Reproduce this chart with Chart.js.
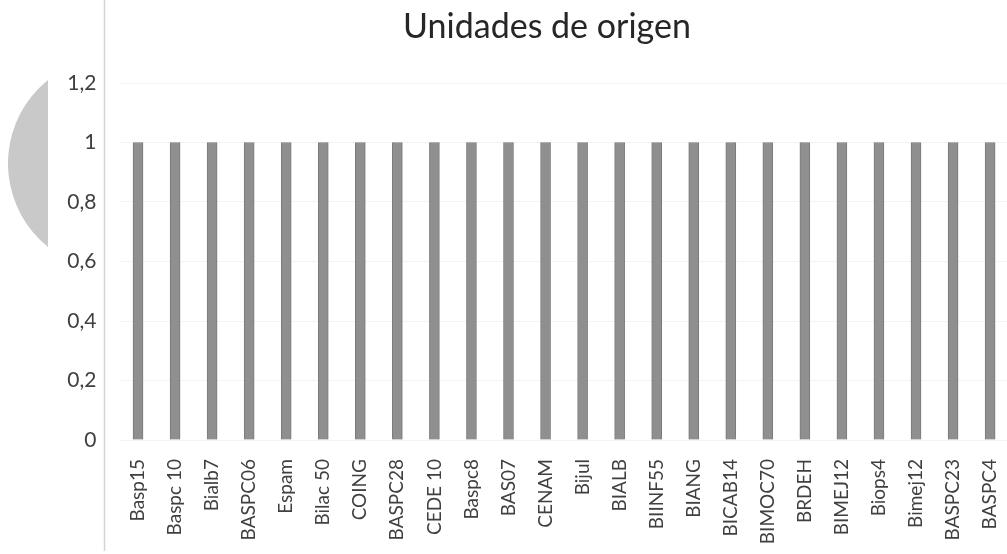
<!DOCTYPE html>
<html>
<head>
<meta charset="utf-8">
<script src="https://cdn.jsdelivr.net/npm/chart.js@4/dist/chart.umd.min.js"></script>
<style>
html,body{margin:0;padding:0;background:#fff;overflow:hidden;width:1007px;height:554px;}
#wrap{position:relative;width:1032px;height:554px;}
canvas{display:block;}
</style>
</head>
<body>
<div id="wrap"><canvas id="c" width="1032" height="554" style="width:1032px;height:554px"></canvas></div>
<script>
const chartTitle = "Unidades de origen";
const categories = ["Basp15","Baspc 10","Bialb7","BASPC06","Espam","Bilac 50","COING","BASPC28","CEDE 10","Baspc8","BAS07","CENAM","Bijul","BIALB","BIINF55","BIANG","BICAB14","BIMOC70","BRDEH","BIMEJ12","Biops4","Bimej12","BASPC23","BASPC4"];
const values = [1,1,1,1,1,1,1,1,1,1,1,1,1,1,1,1,1,1,1,1,1,1,1,1];
const yTicks = [0,0.2,0.4,0.6,0.8,1,1.2];

const decor = {
  id: 'decor',
  beforeDraw(chart) {
    const ctx = chart.ctx;
    ctx.save();
    ctx.fillStyle = '#fff';
    ctx.fillRect(0,0,chart.width,chart.height);
    // left frame line
    ctx.strokeStyle = '#d4d4d4';
    ctx.lineWidth = 1.5;
    ctx.beginPath();
    ctx.moveTo(104.5, 0);
    ctx.lineTo(104.5, 551);
    ctx.stroke();
    // grey circular-segment artifact (scan decoration)
    ctx.fillStyle = '#c9c9c9';
    ctx.beginPath();
    const a = Math.asin(83.5 / 107.2);
    ctx.arc(115.2, 163.5, 107.2, Math.PI - a, Math.PI + a);
    ctx.closePath();
    ctx.fill();
    // title
    ctx.fillStyle = '#262626';
    ctx.font = '34px Lato';
    ctx.textAlign = 'center';
    ctx.textBaseline = 'alphabetic';
    ctx.fillText(chartTitle, 547, 38);
    ctx.restore();
  }
};

new Chart(document.getElementById('c'), {
  type: 'bar',
  data: {
    labels: categories,
    datasets: [{
      data: values,
      backgroundColor: '#8f8f8f',
      borderColor: '#7a7a7a',
      borderWidth: 1,
      barThickness: 10
    }]
  },
  options: {
    responsive: false,
    animation: false,
    layout: { padding: { top: 83, right: 4, left: 0, bottom: 0 } },
    plugins: { legend: { display: false }, tooltip: { enabled: false }, title: { display: false } },
    scales: {
      x: {
        offset: true,
        grid: { display: false, drawTicks: false },
        border: { display: false },
        ticks: {
          autoSkip: false, maxRotation: 90, minRotation: 90,
          padding: 19, color: '#404040',
          font: { family: 'Lato', size: 19 }
        },
        afterFit(scale) { scale.height = 114; }
      },
      y: {
        min: 0, max: 1.2,
        afterBuildTicks(scale) { scale.ticks = yTicks.map(v => ({ value: v })); },
        grid: { color: '#f3f3f3', drawTicks: false },
        border: { display: false },
        ticks: {
          padding: 23, color: '#404040',
          font: { family: 'Lato', size: 21 },
          callback: v => String(Math.round(v * 10) / 10).replace('.', ',')
        },
        afterFit(scale) { scale.width = 119.5; }
      }
    }
  },
  plugins: [decor]
});
</script>
</body>
</html>
